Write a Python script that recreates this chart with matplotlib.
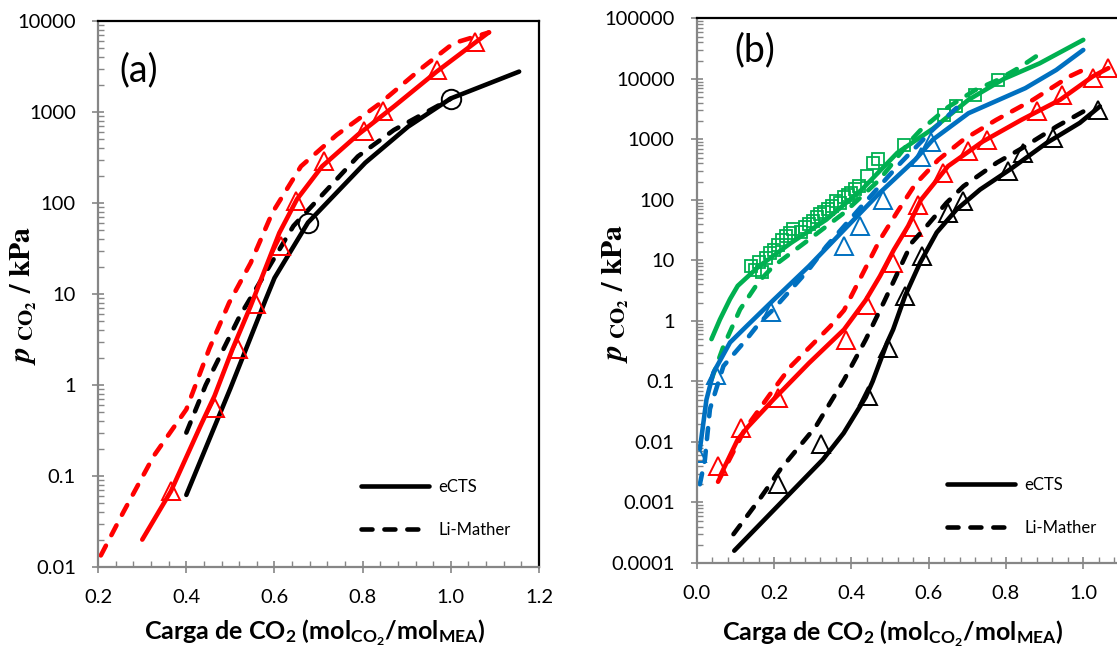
import numpy as np
import matplotlib.pyplot as plt
from matplotlib.ticker import LogLocator, MultipleLocator, FixedLocator, FuncFormatter, NullFormatter
from matplotlib.lines import Line2D

plt.rcParams['font.family'] = ['Lato', 'DejaVu Sans']
plt.rcParams['mathtext.fontset'] = 'custom'
plt.rcParams['mathtext.rm'] = 'Lato:bold'
plt.rcParams['mathtext.bf'] = 'Lato:bold'
plt.rcParams['mathtext.it'] = 'Lato:bold:italic'

# ---------------- panel (a) data ----------------
a_ects_x = [0.40, 0.50, 0.58, 0.60, 0.676, 0.806, 0.903, 1.00, 1.155]
a_ects_y = [0.062, 0.92, 8.7, 15, 61, 277, 690, 1410, 2780]
a_lm_x = [0.40, 0.444, 0.521, 0.643, 0.789, 0.871, 1.00]
a_lm_y = [0.30, 1.0, 5.7, 56, 325, 635, 1400]
a_circ_x = [0.676, 1.00]
a_circ_y = [61, 1400]

a_red_x = [0.30, 0.365, 0.432, 0.464, 0.505, 0.546, 0.611, 0.651, 0.708, 0.789, 0.871, 0.968, 1.086]
a_red_y = [0.020, 0.068, 0.355, 0.76, 2.5, 7.4, 47, 110, 253, 562, 1150, 2780, 7500]
a_red_lm_x = [0.206, 0.257, 0.326, 0.40, 0.452, 0.497, 0.546, 0.595, 0.660, 0.741, 0.839, 0.937, 1.006, 1.087]
a_red_lm_y = [0.0134, 0.040, 0.166, 0.54, 2.5, 8.0, 22, 78, 253, 560, 1240, 3120, 5700, 7500]
a_tri_x = [0.365, 0.464, 0.517, 0.558, 0.615, 0.648, 0.712, 0.802, 0.846, 0.968, 1.054]
a_tri_y = [0.068, 0.56, 2.5, 7.7, 34, 104, 287, 612, 1014, 2890, 5900]

# ---------------- panel (b) data ----------------
b_blk_x = [0.097, 0.326, 0.38, 0.437, 0.455, 0.492, 0.508, 0.539, 0.578, 0.621, 0.672, 0.733, 0.810, 0.905, 0.991, 1.043]
b_blk_y = [1.6e-4, 0.0051, 0.014, 0.055, 0.10, 0.43, 0.72, 2.6, 9.2, 29, 69, 148, 316, 870, 1870, 3500]
b_blk_lm_x = [0.095, 0.161, 0.216, 0.308, 0.381, 0.437, 0.485, 0.556, 0.595, 0.646, 0.690, 0.776, 0.836, 0.931, 1.009]
b_blk_lm_y = [3e-4, 0.0011, 0.0035, 0.018, 0.106, 0.49, 2.1, 19.5, 37, 89, 168, 410, 680, 1630, 3100]
b_blk_tri_x = [0.209, 0.322, 0.444, 0.496, 0.539, 0.582, 0.650, 0.688, 0.806, 0.845, 0.922, 1.039]
b_blk_tri_y = [0.0020, 0.0091, 0.057, 0.354, 2.6, 11.7, 61, 95, 297, 600, 1050, 3000]

b_red_x = [0.06, 0.106, 0.133, 0.198, 0.29, 0.381, 0.437, 0.474, 0.51, 0.547, 0.58, 0.65, 0.74, 0.84, 0.94, 1.025, 1.065]
b_red_y = [0.0027, 0.011, 0.018, 0.05, 0.2, 0.72, 2.2, 5.5, 15, 37, 100, 360, 920, 2100, 4500, 11000, 15000]
b_red_lm_x = [0.055, 0.124, 0.198, 0.244, 0.345, 0.381, 0.474, 0.52, 0.565, 0.625, 0.69, 0.775, 0.87, 0.965, 1.0]
b_red_lm_y = [0.0022, 0.016, 0.073, 0.18, 0.81, 1.5, 22, 65, 180, 460, 990, 2100, 4500, 11000, 14000]
b_red_tri_x = [0.055, 0.115, 0.209, 0.386, 0.441, 0.508, 0.560, 0.573, 0.638, 0.702, 0.75, 0.879, 0.944, 1.026, 1.065]
b_red_tri_y = [0.004, 0.017, 0.053, 0.49, 1.8, 9.2, 35, 83, 280, 630, 990, 2900, 5500, 10300, 15000]

b_blu_x = [0.008, 0.025, 0.043, 0.086, 0.129, 0.198, 0.29, 0.381, 0.473, 0.565, 0.611, 0.703, 0.85, 0.93, 1.0]
b_blu_y = [0.0076, 0.05, 0.14, 0.44, 0.82, 2.2, 8.0, 32, 130, 460, 990, 2700, 7000, 14000, 30000]
b_blu_lm_x = [0.008, 0.021, 0.034, 0.069, 0.129, 0.163, 0.198, 0.29, 0.335, 0.427, 0.519, 0.611, 0.672]
b_blu_lm_y = [0.002, 0.0051, 0.035, 0.18, 0.5, 0.94, 1.55, 7.1, 17, 79, 359, 1450, 3300]
b_blu_tri_x = [0.0, 0.05, 0.193, 0.381, 0.423, 0.483, 0.579, 0.607]
b_blu_tri_y = [0.0066, 0.13, 1.4, 17, 37, 100, 520, 900]

b_grn_x = [0.038, 0.06, 0.086, 0.106, 0.161, 0.244, 0.335, 0.427, 0.519, 0.611, 0.703, 0.795, 0.887, 1.0]
b_grn_y = [0.5, 1.06, 2.3, 3.8, 8.0, 19.5, 47, 148, 600, 1500, 4500, 10000, 18000, 44000]
b_grn_lm_x = [0.038, 0.069, 0.112, 0.161, 0.198, 0.29, 0.381, 0.473, 0.55, 0.578, 0.65, 0.72, 0.776, 0.836, 0.88]
b_grn_lm_y = [0.108, 0.38, 1.55, 4.5, 8.0, 22, 61, 216, 900, 1400, 3400, 6500, 9400, 15500, 24000]
b_sq_x = [0.14, 0.15, 0.16, 0.17, 0.18, 0.19, 0.20, 0.21, 0.22, 0.23, 0.24, 0.25, 0.27, 0.28, 0.29, 0.30,
          0.31, 0.32, 0.33, 0.34, 0.35, 0.36, 0.37, 0.38, 0.39, 0.40, 0.41, 0.42, 0.44, 0.455, 0.47, 0.535,
          0.64, 0.67, 0.72, 0.78]
b_sq_y = [8.0, 7.0, 9.5, 6.5, 11, 13, 15, 18, 22, 25, 28, 33, 30, 35, 40, 45,
          52, 58, 62, 70, 80, 95, 88, 110, 120, 130, 150, 170, 250, 400, 480, 800,
          2500, 3500, 5500, 9500]

b_xticks = [0.0, 0.2, 0.4, 0.6, 0.8, 1.0]

GRAY = '#868686'
RED = '#FF0000'
BLUE = '#0070C0'
GREEN = '#00B050'
LW = 3.3
DASH = (0, (2.4, 2.6))


def fmt_log(v, pos):
    if v >= 1:
        return f'{v:.0f}'
    d = int(round(-np.log10(v)))
    return f'{v:.{d}f}'


def style_axes(ax, ymin, ymax):
    ax.set_yscale('log')
    ax.set_ylim(ymin, ymax)
    ax.yaxis.set_major_locator(LogLocator(base=10, numticks=20))
    ax.yaxis.set_minor_locator(LogLocator(base=10, subs=np.arange(2, 10), numticks=20))
    ax.yaxis.set_major_formatter(FuncFormatter(fmt_log))
    ax.yaxis.set_minor_formatter(NullFormatter())
    ax.xaxis.set_minor_locator(MultipleLocator(0.04))
    ax.xaxis.set_major_formatter(FuncFormatter(lambda v, p: f'{v:.1f}'))
    ax.tick_params(which='major', direction='inout', length=9, width=1.2, color=GRAY,
                   labelsize=14.5, pad=11.5)
    ax.tick_params(which='minor', direction='in', length=4.5, width=1.0, color=GRAY)
    for s in ['left', 'bottom']:
        ax.spines[s].set_color(GRAY)
        ax.spines[s].set_linewidth(1.6)
    for s in ['top', 'right']:
        ax.spines[s].set_color('black')
        ax.spines[s].set_linewidth(1.6)
    ax.set_xlabel(r'Carga de CO$_2$ (mol$_{\mathrm{CO_2}}$/mol$_{\mathrm{MEA}}$)',
                  fontsize=18, fontweight='bold')
    ax.set_ylabel(r'$\mathbfit{p}_{\ \mathbf{CO_2}}\mathbf{\ /\ kPa}$', fontsize=21.5,
                  math_fontfamily='stix')
    handles = [Line2D([], [], color='black', lw=LW, solid_capstyle='round'),
               Line2D([], [], color='black', lw=LW, ls=DASH, dash_capstyle='round')]
    return handles


fig = plt.figure(figsize=(11.17, 6.53), dpi=100)
ax1 = fig.add_axes([0.0879, 0.1317, 0.3946, 0.8361])
ax2 = fig.add_axes([0.6238, 0.1378, 0.4152, 0.8342])

# panel (a)
ax1.plot(a_red_lm_x, a_red_lm_y, color=RED, lw=LW, ls=DASH, dash_capstyle='round')
ax1.plot(a_lm_x, a_lm_y, color='black', lw=LW, ls=DASH, dash_capstyle='round')
ax1.plot(a_ects_x, a_ects_y, color='black', lw=LW, solid_capstyle='round')
ax1.plot(a_red_x, a_red_y, color=RED, lw=LW, solid_capstyle='round')
ax1.plot(a_tri_x, a_tri_y, ls='none', marker='^', ms=13, mfc='none', mec=RED, mew=1.4)
ax1.plot(a_circ_x, a_circ_y, ls='none', marker='o', ms=14, mfc='none', mec='black', mew=1.4)
ax1.set_xlim(0.2, 1.2)
ax1.xaxis.set_major_locator(MultipleLocator(0.2))
h = style_axes(ax1, 0.01, 10000)
ax1.xaxis.set_label_coords(0.492, -0.093)
ax1.yaxis.set_label_coords(-0.134, 0.498)
ax1.text(0.049, 0.91, '(a)', transform=ax1.transAxes, fontsize=27, va='center')
ax1.legend(h, ['eCTS', 'Li-Mather'], frameon=False, fontsize=12, loc='center left',
           bbox_to_anchor=(0.5955, 0.107), borderpad=0, borderaxespad=0,
           handlelength=4.1, handletextpad=0.55, labelspacing=1.6)

# panel (b)
ax2.plot(b_grn_lm_x, b_grn_lm_y, color=GREEN, lw=LW, ls=DASH, dash_capstyle='round')
ax2.plot(b_grn_x, b_grn_y, color=GREEN, lw=LW, solid_capstyle='round')
ax2.plot(b_sq_x, b_sq_y, ls='none', marker='s', ms=8, mfc='none', mec=GREEN, mew=1.3)
ax2.plot(b_blu_lm_x, b_blu_lm_y, color=BLUE, lw=LW, ls=DASH, dash_capstyle='round')
ax2.plot(b_blu_x, b_blu_y, color=BLUE, lw=LW, solid_capstyle='round')
ax2.plot(b_blu_tri_x, b_blu_tri_y, ls='none', marker='^', ms=13, mfc='none', mec=BLUE, mew=1.4)
ax2.plot(b_red_lm_x, b_red_lm_y, color=RED, lw=LW, ls=DASH, dash_capstyle='round')
ax2.plot(b_red_x, b_red_y, color=RED, lw=LW, solid_capstyle='round')
ax2.plot(b_red_tri_x, b_red_tri_y, ls='none', marker='^', ms=13, mfc='none', mec=RED, mew=1.4)
ax2.plot(b_blk_lm_x, b_blk_lm_y, color='black', lw=LW, ls=DASH, dash_capstyle='round')
ax2.plot(b_blk_x, b_blk_y, color='black', lw=LW, solid_capstyle='round')
ax2.plot(b_blk_tri_x, b_blk_tri_y, ls='none', marker='^', ms=13, mfc='none', mec='black', mew=1.4)
ax2.set_xlim(0.0, 1.2)
ax2.xaxis.set_major_locator(FixedLocator(b_xticks))
h = style_axes(ax2, 0.0001, 100000)
ax2.xaxis.set_label_coords(0.423, -0.101)
ax2.yaxis.set_label_coords(-0.142, 0.496)
ax2.text(0.08, 0.942, '(b)', transform=ax2.transAxes, fontsize=27, va='center')
ax2.legend(h, ['eCTS', 'Li-Mather'], frameon=False, fontsize=12, loc='center left',
           bbox_to_anchor=(0.539, 0.104), borderpad=0, borderaxespad=0,
           handlelength=4.1, handletextpad=0.55, labelspacing=1.6)

fig.savefig('out.png', dpi=100)
